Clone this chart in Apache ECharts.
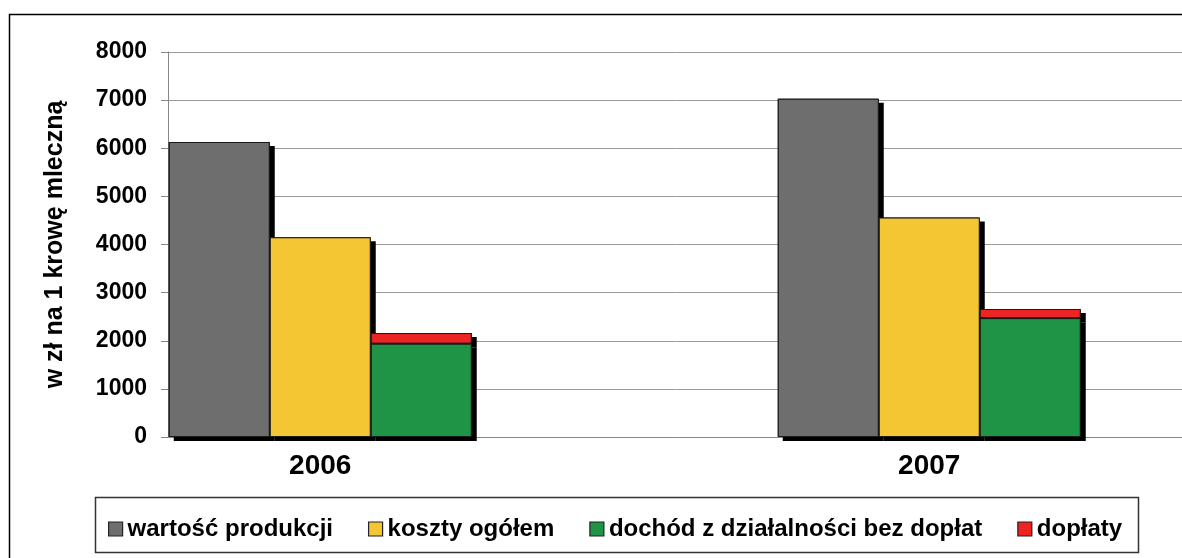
<!DOCTYPE html>
<html>
<head>
<meta charset="utf-8">
<script src="https://cdn.jsdelivr.net/npm/echarts@6/dist/echarts.min.js"></script>
<style>
html,body{margin:0;padding:0;background:#fff;}
#c{width:1182px;height:558px;}
</style>
</head>
<body>
<div id="c"></div>
<script>
const years = ['2006', '2007'];
const wartoscProdukcji = [6130, 7030];
const kosztyOgolem = [4150, 4560];
const dochodBezDoplat = [1940, 2470];
const doplaty = [220, 190];
const yTicks = [0, 1000, 2000, 3000, 4000, 5000, 6000, 7000, 8000];
const seriesNames = ['wartość produkcji', 'koszty ogółem', 'dochód z działalności bez dopłat', 'dopłaty'];
const yName = 'w zł na 1 krowę mleczną';

// interleave an empty slot after each year (plot area extends past the visible frame)
function spread(arr, filler) {
  const out = [];
  arr.forEach(v => { out.push(v); out.push(filler); });
  return out;
}
const cats = spread(years, '');

const FONT = '"Liberation Sans", Arial, sans-serif';
const colors = ['#6e6e6e', '#f4c633', '#1f9447', '#ee2424'];
const valueSets = [wartoscProdukcji, kosztyOgolem, dochodBezDoplat, doplaty];
const stacks = ['a', 'b', 'c', 'c'];

const series = [];
// shadow layer (hidden x axis 1): black bars whose offset shadow peeks out
valueSets.forEach((vals, i) => {
  series.push({
    name: 'cien' + i, type: 'bar', xAxisIndex: 1, stack: 's' + stacks[i],
    barWidth: 101, barGap: '0%', data: spread(vals, null), silent: true, z: 1,
    itemStyle: {color: '#000', shadowColor: '#000', shadowBlur: 0, shadowOffsetX: 5, shadowOffsetY: 4}
  });
});
// visible bars
valueSets.forEach((vals, i) => {
  series.push({
    name: seriesNames[i], type: 'bar', xAxisIndex: 0, stack: stacks[i],
    barWidth: 101, barGap: '0%', data: spread(vals, null), z: 3,
    itemStyle: {color: colors[i], borderColor: '#1a1a1a', borderWidth: 1}
  });
});

const chart = echarts.init(document.getElementById('c'), null, {renderer: 'canvas'});
chart.setOption({
  animation: false,
  backgroundColor: '#fff',
  graphic: [
    {type: 'rect', shape: {x: 9.5, y: 14.5, width: 1400, height: 1000}, style: {fill: 'none', stroke: '#000', lineWidth: 1.5}, silent: true, z: 0},
    {type: 'rect', shape: {x: 95.5, y: 497.5, width: 1043, height: 55}, style: {fill: '#fff', stroke: '#333', lineWidth: 1.5}, silent: true, z: 0}
  ],
  grid: {left: 168, top: 52, width: 1218, height: 385, containLabel: false, outerBoundsMode: 'none'},
  legend: {
    left: 103, top: 512, itemWidth: 14, itemHeight: 14, itemGap: 35, icon: 'rect',
    itemStyle: {borderColor: '#222', borderWidth: 1.2},
    textStyle: {fontFamily: FONT, fontWeight: 'bold', fontSize: 24, color: '#000'},
    data: seriesNames
  },
  xAxis: [{
    type: 'category', data: cats,
    axisLine: {show: true, lineStyle: {color: '#888', width: 1}},
    axisTick: {show: false},
    axisLabel: {fontFamily: FONT, fontWeight: 'bold', fontSize: 28, color: '#000', margin: 15, interval: 0},
    splitLine: {show: false}
  }, {
    type: 'category', data: cats, show: false, position: 'bottom'
  }],
  yAxis: {
    type: 'value', min: 0, max: 8000, interval: 1000,
    name: yName, nameLocation: 'middle', nameGap: 100, nameRotate: 90,
    nameTextStyle: {fontFamily: FONT, fontWeight: 'bold', fontSize: 25, color: '#000'},
    axisLine: {show: true, lineStyle: {color: '#888', width: 1}},
    axisTick: {show: true, length: 7, lineStyle: {color: '#888'}},
    axisLabel: {fontFamily: FONT, fontWeight: 'bold', fontSize: 23, color: '#000', margin: 21,
      formatter: v => yTicks.includes(v) ? String(v) : ''},
    splitLine: {show: true, lineStyle: {color: '#9a9a9a', width: 1}}
  },
  series: series
});
</script>
</body>
</html>
